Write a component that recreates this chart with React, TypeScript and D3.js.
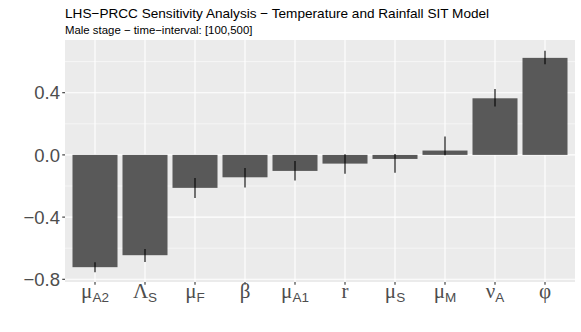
import React from "react";
import * as d3 from "d3";

const categories = ["muA2", "LambdaS", "muF", "beta", "muA1", "r", "muS", "muM", "nuA", "phi"];
const labelMain = ["μ", "Λ", "μ", "β", "μ", "r", "μ", "μ", "ν", "φ"];
const labelSub = ["A2", "S", "F", "", "A1", "", "S", "M", "A", ""];
const values = [-0.722, -0.645, -0.212, -0.144, -0.103, -0.056, -0.026, 0.028, 0.364, 0.624];
const errLow = [-0.755, -0.688, -0.277, -0.21, -0.165, -0.122, -0.114, -0.002, 0.311, 0.583];
const errHigh = [-0.69, -0.605, -0.148, -0.084, -0.039, 0.004, 0.006, 0.118, 0.424, 0.669];
const yTicks = [-0.8, -0.4, 0.0, 0.4];
const yMinor = [-0.6, -0.2, 0.2, 0.6];

const W = 581, H = 332;
const left = 65, right = 575, top = 40, bottom = 282;

export default function App() {
  const x = d3.scaleBand<string>().domain(categories).range([left, right]).paddingOuter(0.1).paddingInner(0.1);
  // ggplot: expand 0.6 units each side, bar width 0.9
  const unit = (right - left) / (categories.length + 0.2);
  const cx = (i: number) => left + unit * (0.6 + i);
  const bw = unit * 0.9;
  const y = d3.scaleLinear().domain([-0.8, 0.4]).range([279.3, 92.7]);
  const font = "Liberation Sans, Arial, sans-serif";
  const greek = "Liberation Serif, DejaVu Serif, serif";
  return (
    <svg width={W} height={H} style={{ position: "absolute", left: 0, top: 0 }}>
      <rect x={0} y={0} width={W} height={H} fill="white" />
      <text x={65} y={18} fontFamily={font} fontSize={13.6} fill="black">
        LHS−PRCC Sensitivity Analysis − Temperature and Rainfall SIT Model
      </text>
      <text x={65} y={34} fontFamily={font} fontSize={11.4} fill="black">
        Male stage − time−interval: [100,500]
      </text>
      <rect x={left} y={top} width={right - left} height={bottom - top} fill="#EBEBEB" />
      {yMinor.map((t) => (
        <line key={"m" + t} x1={left} x2={right} y1={y(t)} y2={y(t)} stroke="white" strokeWidth={0.55} />
      ))}
      {yTicks.map((t) => (
        <line key={"M" + t} x1={left} x2={right} y1={y(t)} y2={y(t)} stroke="white" strokeWidth={1.1} />
      ))}
      {categories.map((c, i) => (
        <line key={"v" + c} x1={cx(i)} x2={cx(i)} y1={top} y2={bottom} stroke="white" strokeWidth={1.1} />
      ))}
      {categories.map((c, i) => {
        const v = values[i];
        const y0 = y(0), y1 = y(v);
        return (
          <rect key={"b" + c} x={cx(i) - bw / 2} y={Math.min(y0, y1)} width={bw} height={Math.abs(y1 - y0)}
            fill="#595959" />
        );
      })}
      {categories.map((c, i) => (
        <line key={"e" + c} x1={cx(i)} x2={cx(i)} y1={y(errLow[i])} y2={y(errHigh[i])} stroke="black" strokeWidth={1.1} />
      ))}
      {yTicks.map((t) => (
        <g key={"yt" + t}>
          <line x1={left - 2.75} x2={left} y1={y(t)} y2={y(t)} stroke="#333333" strokeWidth={1.1} />
          <text x={left - 5} y={y(t)} dy="0.36em" textAnchor="end" fontFamily={font} fontSize={18.5} fill="#4D4D4D">
            {d3.format(".1f")(t).replace("-", "−")}
          </text>
        </g>
      ))}
      {categories.map((c, i) => (
        <g key={"xt" + c}>
          <line x1={cx(i)} x2={cx(i)} y1={bottom} y2={bottom + 2.75} stroke="#333333" strokeWidth={1.1} />
          <text x={cx(i)} y={298} textAnchor="middle" fill="#4D4D4D">
            <tspan fontFamily={greek} fontSize={21}>{labelMain[i]}</tspan>
            {labelSub[i] ? (
              <tspan dy={4} fontFamily={font} fontSize={13.5}>{labelSub[i]}</tspan>
            ) : null}
          </text>
        </g>
      ))}
    </svg>
  );
}
